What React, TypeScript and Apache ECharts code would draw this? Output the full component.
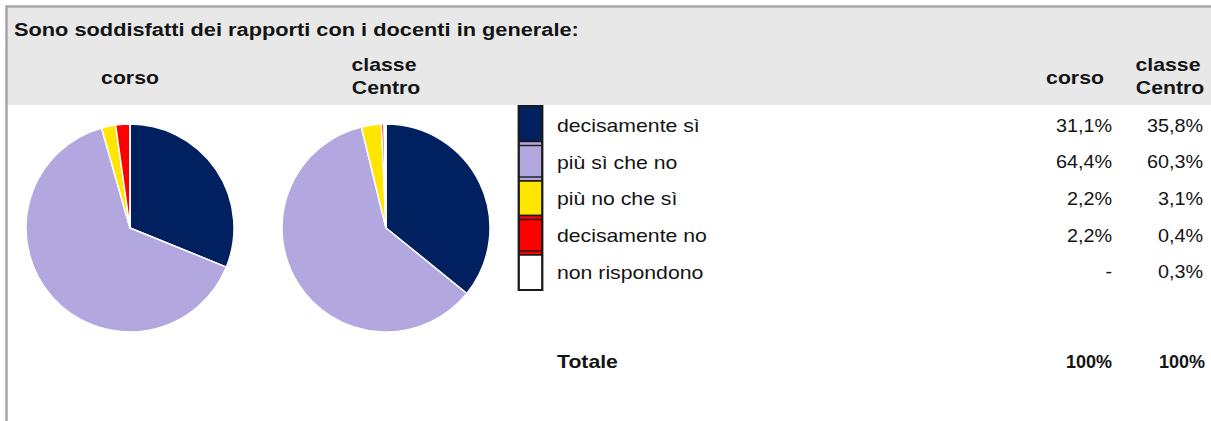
import React, { useEffect, useRef } from "react";
import * as echarts from "echarts";

const title = "Sono soddisfatti dei rapporti con i docenti in generale:";
const groups = ["corso", "classe Centro"];
const categories = ["decisamente sì", "più sì che no", "più no che sì", "decisamente no", "non rispondono"];
const colors = ["#00205f", "#b2a7df", "#ffe500", "#ff0000", "#ffffff"];
const corsoValues: (number | null)[] = [31.1, 64.4, 2.2, 2.2, null];
const classeValues: (number | null)[] = [35.8, 60.3, 3.1, 0.4, 0.3];
const totalLabel = "Totale";
const totals = ["100%", "100%"];

const FONT = "'Liberation Sans', Arial, sans-serif";
const SX = 1.18;
const TXT = "#141414";

function fmt(v: number | null) {
  return v == null ? "-" : v.toFixed(1).replace(".", ",") + "%";
}

function txt(text: string, x: number, baseline: number, align: string, bold: boolean, sx = SX) {
  return {
    type: "text",
    x,
    y: baseline - 6,
    scaleX: sx,
    silent: true,
    style: {
      text,
      x: 0,
      y: 0,
      fill: TXT,
      fontFamily: FONT,
      fontSize: 18,
      fontWeight: bold ? "bold" : "normal",
      align,
      verticalAlign: "middle",
    },
  };
}

export default function App() {
  const ref = useRef<HTMLDivElement>(null);
  useEffect(() => {
    if (!ref.current) return;
    const chart = echarts.init(ref.current, null, { renderer: "svg" });
    const pieData = (vals: (number | null)[]) =>
      categories.map((c, i) => ({ name: c, value: vals[i] ?? 0, itemStyle: { color: colors[i] } }));

    const graphics: any[] = [];
    graphics.push({ type: "rect", shape: { x: 7, y: 8, width: 1204, height: 97 }, style: { fill: "#e8e8e8" }, silent: true, z: -10 });
    graphics.push({ type: "line", shape: { x1: 6, y1: 6.5, x2: 1211, y2: 6.5 }, style: { stroke: "#a6a6a6", lineWidth: 2.5 }, silent: true });
    graphics.push({ type: "line", shape: { x1: 6.5, y1: 5.5, x2: 6.5, y2: 421 }, style: { stroke: "#a6a6a6", lineWidth: 2.5 }, silent: true });
    graphics.push(txt(title, 14, 36, "left", true, 1.21));
    graphics.push(txt(groups[0], 130, 84, "center", true));
    graphics.push(txt("classe", 384, 71, "center", true));
    graphics.push(txt("Centro", 386, 94, "center", true));
    graphics.push(txt(groups[0], 1075, 84, "center", true));
    graphics.push(txt("classe", 1168, 71, "center", true));
    graphics.push(txt("Centro", 1170, 94, "center", true));

    const bounds = [106, 141.5, 181, 215.5, 255, 290];
    categories.forEach((c, i) => {
      const y0 = bounds[i];
      const y1 = bounds[i + 1];
      graphics.push({ type: "rect", shape: { x: 519, y: y0, width: 23, height: y1 - y0 }, style: { fill: colors[i], stroke: "#1a1a1a", lineWidth: 1.6 }, silent: true });
      if (i === 1 || i === 3) {
        graphics.push({ type: "line", shape: { x1: 519, y1: y0 + 4, x2: 542, y2: y0 + 4 }, style: { stroke: "#1a1a1a", lineWidth: 1.4 }, silent: true });
        graphics.push({ type: "line", shape: { x1: 519, y1: y1 - 4, x2: 542, y2: y1 - 4 }, style: { stroke: "#1a1a1a", lineWidth: 1.4 }, silent: true });
      }
      const base = 131.5 + i * 36.7;
      graphics.push(txt(c, 557, base, "left", false));
      graphics.push(txt(fmt(corsoValues[i]), 1112, base, "right", false, 1.1));
      graphics.push(txt(fmt(classeValues[i]), 1203, base, "right", false, 1.1));
    });
    graphics.push({ type: "rect", shape: { x: 518.5, y: 106, width: 24, height: 184 }, style: { fill: "none", stroke: "#1a1a1a", lineWidth: 1.8 }, silent: true });

    graphics.push(txt(totalLabel, 557, 368, "left", true));
    graphics.push(txt(totals[0], 1112, 368, "right", true, 1.0));
    graphics.push(txt(totals[1], 1205, 368, "right", true, 1.0));

    const pieCommon = {
      type: "pie",
      radius: 104,
      startAngle: 90,
      clockwise: true,
      label: { show: false },
      labelLine: { show: false },
      emphasis: { disabled: true },
      silent: true,
      itemStyle: { borderColor: "#ffffff", borderWidth: 1.5 },
    };

    chart.setOption({
      animation: false,
      backgroundColor: "#ffffff",
      graphic: { elements: graphics },
      series: [
        { ...pieCommon, name: groups[0], center: [130, 228], data: pieData(corsoValues) },
        { ...pieCommon, name: groups[1], center: [386, 228], data: pieData(classeValues) },
      ],
    });
    return () => chart.dispose();
  }, []);
  return <div ref={ref} style={{ position: "fixed", left: 0, top: 0, width: 1211, height: 421 }} />;
}
